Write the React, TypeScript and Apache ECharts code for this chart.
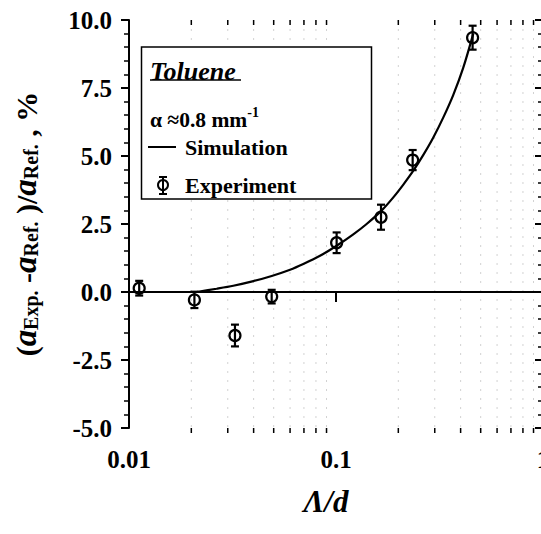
import React, { useEffect, useRef } from "react";
import * as echarts from "echarts";

// ---- data ----
const X_TICK_LABELS = ["0.01", "0.1", "1"];
const X_MINOR = [0.02, 0.03, 0.04, 0.05, 0.06, 0.07, 0.08, 0.09, 0.2, 0.3, 0.4, 0.5, 0.6, 0.7, 0.8, 0.9];
const Y_MIN = -5;
const Y_MAX = 10;
const Y_STEP = 2.5;

const SIM_X = [0.0212, 0.0265, 0.0319, 0.0399, 0.0489, 0.06, 0.0695, 0.0837, 0.1007, 0.1212, 0.1406, 0.1663, 0.1892, 0.2115, 0.2364, 0.2642, 0.2952, 0.33, 0.3687, 0.412, 0.4606];
const SIM_Y = [0, 0.12, 0.23, 0.4, 0.59, 0.82, 1.03, 1.33, 1.7, 2.12, 2.5, 3.0, 3.48, 3.95, 4.46, 5.04, 5.68, 6.42, 7.25, 8.25, 9.5];

const EXP_X = [0.0112, 0.0207, 0.0325, 0.0489, 0.1007, 0.165, 0.2346, 0.457];
const EXP_Y = [0.14, -0.29, -1.6, -0.17, 1.81, 2.75, 4.85, 9.35];
const EXP_ERR = [0.27, 0.3, 0.4, 0.25, 0.38, 0.46, 0.37, 0.44];

const FONT = "Liberation Serif";

export default function App() {
  const ref = useRef<HTMLDivElement>(null);
  useEffect(() => {
    if (!ref.current) return;
    const chart = echarts.init(ref.current, null, { renderer: "svg" });
    const fmtX = (v: number) => {
      const s = String(parseFloat(Number(v).toPrecision(3)));
      return X_TICK_LABELS.includes(s) ? s : "";
    };
    const option: any = {
      animation: false,
      backgroundColor: "#fff",
      textStyle: { fontFamily: FONT },
      grid: { left: 129, top: 20, right: -2, bottom: 106, outerBoundsMode: "none", containLabel: false },
      xAxis: [
        {
          type: "log",
          logBase: 10,
          min: 0.01,
          max: 1,
          splitNumber: 2,
          position: "bottom",
          axisLine: { show: true, lineStyle: { color: "#000", width: 2 } },
          axisTick: { show: true, inside: false, length: 10, lineStyle: { color: "#000", width: 2 } },
          minorTick: { show: false },
          splitLine: { show: false },
          axisLabel: {
            formatter: fmtX,
            color: "#000",
            fontFamily: FONT,
            fontWeight: "bold",
            fontSize: 25,
            margin: 19,
          },
          name: "Λ/d",
          nameLocation: "middle",
          nameGap: 58,
          nameTextStyle: {
            fontFamily: FONT,
            fontWeight: "bold",
            fontStyle: "italic",
            fontSize: 31,
            color: "#000",
            padding: [0, 20, 0, 0],
          },
        },
        {
          type: "log",
          logBase: 10,
          min: 0.01,
          max: 1,
          splitNumber: 2,
          position: "top",
          axisLine: { show: true, lineStyle: { color: "#000", width: 2 } },
          axisTick: { show: true, inside: true, length: 10, lineStyle: { color: "#000", width: 2 } },
          minorTick: { show: false },
          splitLine: { show: false },
          axisLabel: { show: false },
        },
      ],
      yAxis: [
        {
          type: "value",
          min: Y_MIN,
          max: Y_MAX,
          interval: Y_STEP,
          position: "left",
          axisLine: { show: true, lineStyle: { color: "#000", width: 2 } },
          axisTick: { show: true, inside: false, length: 8, lineStyle: { color: "#000", width: 2 } },
          minorTick: { show: true, splitNumber: 5, length: 5, lineStyle: { color: "#000", width: 1.5 } },
          splitLine: { show: false },
          axisLabel: {
            formatter: (v: number) => v.toFixed(1),
            color: "#000",
            fontFamily: FONT,
            fontWeight: "bold",
            fontSize: 25,
            margin: 17,
          },
          name: "{p|(}{a|a}{s|Exp.}{p| -}{a|a}{s|Ref.}{p| )/}{a|a}{s|Ref.}{p| , %}",
          nameLocation: "middle",
          nameRotate: 90,
          nameGap: 88,
          nameTextStyle: {
            color: "#000",
            fontFamily: FONT,
            rich: {
              p: { fontFamily: FONT, fontWeight: "bold", fontSize: 30, color: "#000", verticalAlign: "bottom", lineHeight: 36 },
              a: { fontFamily: FONT, fontWeight: "bold", fontStyle: "italic", fontSize: 33, color: "#000", verticalAlign: "bottom", lineHeight: 36 },
              s: { fontFamily: FONT, fontWeight: "bold", fontSize: 20, color: "#000", verticalAlign: "bottom", lineHeight: 27 },
            },
          },
        },
        {
          type: "value",
          min: Y_MIN,
          max: Y_MAX,
          interval: Y_STEP,
          position: "right",
          axisLine: { show: true, lineStyle: { color: "#000", width: 2 } },
          axisTick: { show: true, inside: true, length: 8, lineStyle: { color: "#000", width: 2 } },
          minorTick: { show: true, splitNumber: 5, length: 5, lineStyle: { color: "#000", width: 1.5 } },
          splitLine: { show: false },
          axisLabel: { show: false },
        },
      ],
      series: [
        {
          type: "custom",
          name: "minor",
          xAxisIndex: 0,
          yAxisIndex: 0,
          clip: false,
          silent: true,
          data: X_MINOR.map((v) => [v, 0]),
          renderItem: (params: any, api: any) => {
            const cs = params.coordSys;
            const px = api.coord([api.value(0), 0])[0];
            const bottom = cs.y + cs.height;
            return {
              type: "group",
              children: [
                {
                  type: "line",
                  shape: { x1: px, y1: cs.y, x2: px, y2: bottom },
                  style: { stroke: "#d2d2d2", lineWidth: 1, lineDash: [2, 7] },
                },
                {
                  type: "line",
                  shape: { x1: px, y1: bottom, x2: px, y2: bottom + 5 },
                  style: { stroke: "#000", lineWidth: 1.5 },
                },
                {
                  type: "line",
                  shape: { x1: px, y1: cs.y, x2: px, y2: cs.y + 5 },
                  style: { stroke: "#000", lineWidth: 1.5 },
                },
              ],
            };
          },
        },
        {
          type: "line",
          name: "Simulation",
          xAxisIndex: 0,
          yAxisIndex: 0,
          data: SIM_X.map((x, i) => [x, SIM_Y[i]]),
          smooth: 0.3,
          showSymbol: false,
          symbol: "none",
          lineStyle: { color: "#000", width: 2.2 },
          markLine: {
            silent: true,
            symbol: ["none", "none"],
            label: { show: false },
            lineStyle: { color: "#000", width: 2, type: "solid" },
            data: [{ yAxis: 0 }],
          },
        },
        {
          type: "custom",
          name: "Experiment",
          xAxisIndex: 0,
          yAxisIndex: 0,
          data: EXP_X.map((x, i) => [x, EXP_Y[i], EXP_ERR[i]]),
          renderItem: (params: any, api: any) => {
            const x = api.value(0);
            const y = api.value(1);
            const e = api.value(2);
            const c = api.coord([x, y]);
            const hi = api.coord([x, y + e]);
            const lo = api.coord([x, y - e]);
            const cap = 4;
            const st = { stroke: "#000", lineWidth: 2.2, fill: "none" };
            return {
              type: "group",
              children: [
                { type: "circle", shape: { cx: c[0], cy: c[1], r: 5.5 }, style: st },
                { type: "line", shape: { x1: c[0], y1: hi[1], x2: c[0], y2: lo[1] }, style: st },
                { type: "line", shape: { x1: c[0] - cap, y1: hi[1], x2: c[0] + cap, y2: hi[1] }, style: st },
                { type: "line", shape: { x1: c[0] - cap, y1: lo[1], x2: c[0] + cap, y2: lo[1] }, style: st },
              ],
            };
          },
        },
      ],
      graphic: [
        {
          type: "rect",
          shape: { x: 141.5, y: 47, width: 230, height: 152 },
          style: { fill: "#fff", stroke: "#000", lineWidth: 1.5 },
          z: 10,
        },
        {
          type: "text",
          x: 150,
          y: 71,
          z: 11,
          style: {
            text: "Toluene",
            fontFamily: FONT,
            fontWeight: "bold",
            fontStyle: "italic",
            fontSize: 26,
            fill: "#000",
            textVerticalAlign: "middle",
            verticalAlign: "middle",
          },
        },
        {
          type: "line",
          z: 11,
          shape: { x1: 150, y1: 80, x2: 241, y2: 80 },
          style: { stroke: "#000", lineWidth: 1.5 },
        },
        {
          type: "text",
          x: 150,
          y: 118,
          z: 11,
          style: {
            text: "{t|α ≈0.8 mm}{u|-1}",
            rich: {
              t: { fontFamily: FONT, fontWeight: "bold", fontSize: 21.5, fill: "#000", color: "#000", verticalAlign: "bottom", lineHeight: 26 },
              u: { fontFamily: FONT, fontWeight: "bold", fontSize: 14, fill: "#000", color: "#000", verticalAlign: "top", lineHeight: 26 },
            },
            fontFamily: FONT,
            verticalAlign: "middle",
            textVerticalAlign: "middle",
          },
        },
        {
          type: "line",
          z: 11,
          shape: { x1: 148, y1: 147, x2: 176, y2: 147 },
          style: { stroke: "#000", lineWidth: 2 },
        },
        {
          type: "text",
          x: 185,
          y: 147,
          z: 11,
          style: {
            text: "Simulation",
            fontFamily: FONT,
            fontWeight: "bold",
            fontSize: 22,
            fill: "#000",
            verticalAlign: "middle",
            textVerticalAlign: "middle",
          },
        },
        {
          type: "group",
          z: 11,
          children: [
            { type: "circle", shape: { cx: 163, cy: 185, r: 5 }, style: { stroke: "#000", lineWidth: 2, fill: "none" }, z: 11 },
            { type: "line", shape: { x1: 163, y1: 177, x2: 163, y2: 194 }, style: { stroke: "#000", lineWidth: 2 }, z: 11 },
            { type: "line", shape: { x1: 159, y1: 177, x2: 167, y2: 177 }, style: { stroke: "#000", lineWidth: 2 }, z: 11 },
            { type: "line", shape: { x1: 159, y1: 194, x2: 167, y2: 194 }, style: { stroke: "#000", lineWidth: 2 }, z: 11 },
          ],
        },
        {
          type: "text",
          x: 185,
          y: 185,
          z: 11,
          style: {
            text: "Experiment",
            fontFamily: FONT,
            fontWeight: "bold",
            fontSize: 22,
            fill: "#000",
            verticalAlign: "middle",
            textVerticalAlign: "middle",
          },
        },
      ],
    };
    chart.setOption(option);
    return () => chart.dispose();
  }, []);
  return (
    <div
      ref={ref}
      style={{ position: "fixed", left: 0, top: 0, width: 541, height: 534, background: "#fff" }}
    />
  );
}
